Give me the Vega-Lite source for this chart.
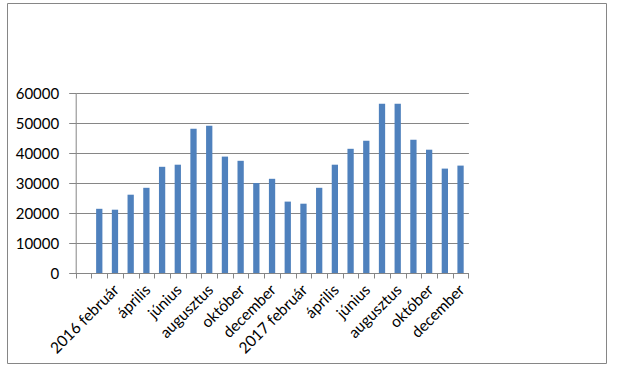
{
  "$schema": "https://vega.github.io/schema/vega-lite/v6.json",
  "autosize": "none",
  "width": 599,
  "height": 360,
  "padding": {"left": 7, "top": 3, "right": 29, "bottom": 14},
  "config": {
    "view": {"stroke": "#868686", "strokeWidth": 1},
    "font": "Lato"
  },
  "data": {
    "values": [
      {"honap": "2016 január", "ertek": 21400},
      {"honap": "2016 február", "ertek": 21100},
      {"honap": "2016 március", "ertek": 26100},
      {"honap": "2016 április", "ertek": 28400},
      {"honap": "2016 május", "ertek": 35400},
      {"honap": "2016 június", "ertek": 36100},
      {"honap": "2016 július", "ertek": 48100},
      {"honap": "2016 augusztus", "ertek": 49100},
      {"honap": "2016 szeptember", "ertek": 38800},
      {"honap": "2016 október", "ertek": 37400},
      {"honap": "2016 november", "ertek": 30000},
      {"honap": "2016 december", "ertek": 31400},
      {"honap": "2017 január", "ertek": 23800},
      {"honap": "2017 február", "ertek": 23100},
      {"honap": "2017 március", "ertek": 28400},
      {"honap": "2017 április", "ertek": 36100},
      {"honap": "2017 május", "ertek": 41400},
      {"honap": "2017 június", "ertek": 44100},
      {"honap": "2017 július", "ertek": 56400},
      {"honap": "2017 augusztus", "ertek": 56400},
      {"honap": "2017 szeptember", "ertek": 44400},
      {"honap": "2017 október", "ertek": 41100},
      {"honap": "2017 november", "ertek": 34800},
      {"honap": "2017 december", "ertek": 35800}
    ]
  },
  "mark": {"type": "bar", "color": "#4F81BD", "width": {"band": 0.4}},
  "encoding": {
    "x": {
      "field": "honap",
      "type": "nominal",
      "sort": null,
      "scale": {
        "domain": ["-", "2016 január", "2016 február", "2016 március", "2016 április", "2016 május", "2016 június", "2016 július", "2016 augusztus", "2016 szeptember", "2016 október", "2016 november", "2016 december", "2017 január", "2017 február", "2017 március", "2017 április", "2017 május", "2017 június", "2017 július", "2017 augusztus", "2017 szeptember", "2017 október", "2017 november", "2017 december"],
        "range": [68.7, 461.4],
        "paddingInner": 0,
        "paddingOuter": 0
      },
      "axis": {
        "title": null,
        "offset": -90,
        "tickBand": "extent",
        "domainColor": "#868686",
        "tickColor": "#868686",
        "tickSize": 5,
        "grid": false,
        "labelAngle": -45,
        "labelAlign": "right",
        "labelBaseline": "middle",
        "labelPadding": 9,
        "labelOffset": 1,
        "labelFont": "Lato",
        "labelFontSize": 15.5,
        "labelColor": "#000000",
        "labelOverlap": false,
        "labelExpr": "indexof(['2016 február','2017 február'], datum.value) >= 0 ? datum.value : (indexof(['április','június','augusztus','október','december'], split(datum.value, ' ')[1]) >= 0 ? split(datum.value, ' ')[1] : '')"
      }
    },
    "y": {
      "field": "ertek",
      "type": "quantitative",
      "scale": {"domain": [0, 60000], "range": [270, 90], "nice": false},
      "axis": {
        "title": null,
        "offset": -68.7,
        "values": [0, 10000, 20000, 30000, 40000, 50000, 60000],
        "format": "d",
        "grid": true,
        "gridColor": "#868686",
        "gridWidth": 1,
        "domainColor": "#868686",
        "tickColor": "#868686",
        "tickSize": 7,
        "labelPadding": 10,
        "labelFont": "Lato",
        "labelFontSize": 15,
        "labelColor": "#000000"
      }
    }
  }
}
